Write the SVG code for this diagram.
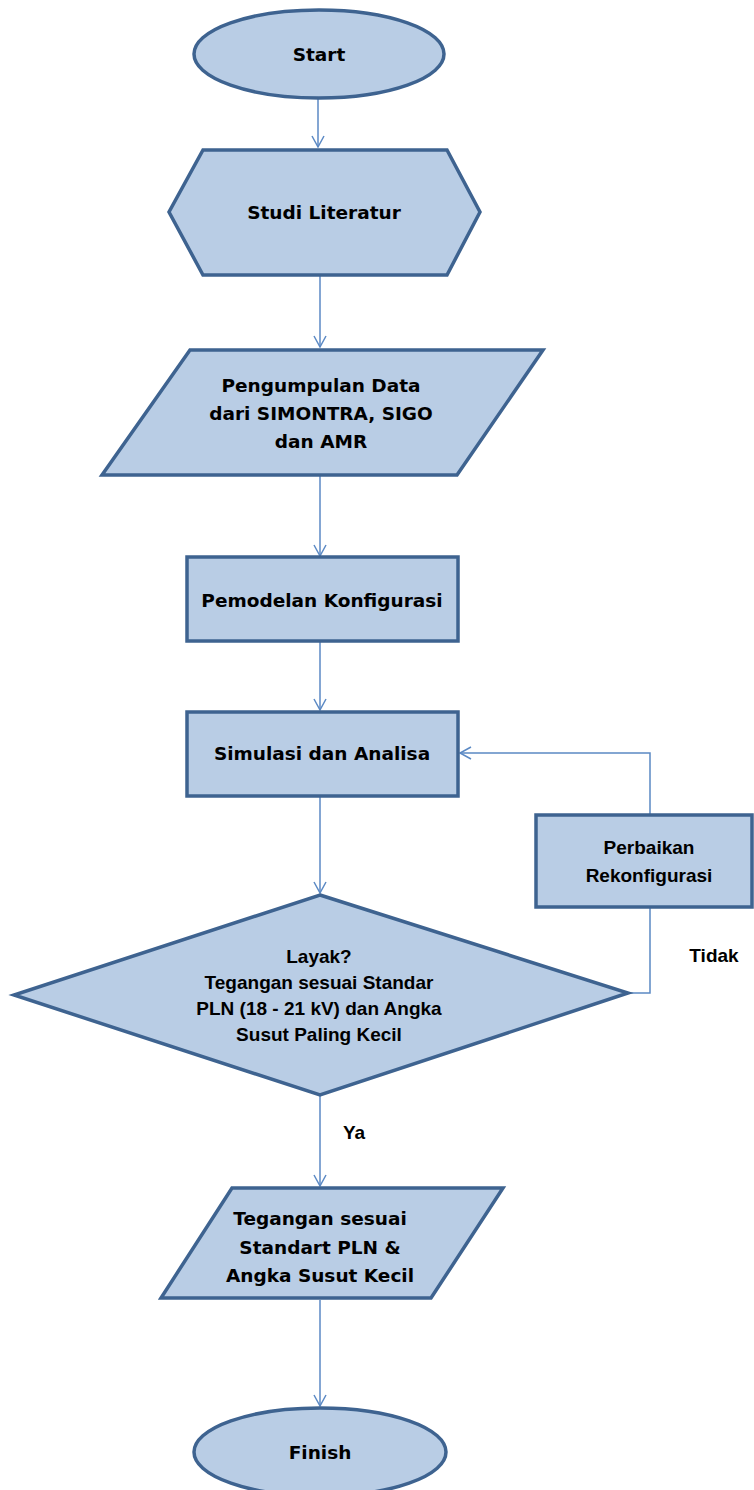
<svg xmlns="http://www.w3.org/2000/svg" width="754" height="1490" viewBox="0 0 754 1490">
<style>
.shape{fill:#B9CDE5;stroke:#3E6390;stroke-width:3.5;stroke-linejoin:miter}
.t{font-family:"DejaVu Sans",Verdana,sans-serif;font-weight:bold;font-size:18.5px;fill:#000;text-anchor:middle;dominant-baseline:central}
.c{font-family:"Liberation Sans",Arial,sans-serif;font-weight:bold;font-size:19px;fill:#000;text-anchor:middle;dominant-baseline:central}
.conn{fill:none;stroke:#5B89C4;stroke-width:1.5}
</style>
<defs>
<marker id="arr" markerWidth="14" markerHeight="14" refX="12" refY="7" orient="auto" markerUnits="userSpaceOnUse">
<path d="M1,1 L12,7 L1,13" fill="none" stroke="#5B89C4" stroke-width="1.5"/>
</marker>
</defs>
<rect width="754" height="1490" fill="#fff"/>
<g id="connectors">
<line class="conn" x1="318" y1="98" x2="318" y2="147" marker-end="url(#arr)"/>
<line class="conn" x1="320" y1="276" x2="320" y2="347" marker-end="url(#arr)"/>
<line class="conn" x1="320" y1="476" x2="320" y2="556" marker-end="url(#arr)"/>
<line class="conn" x1="320" y1="642" x2="320" y2="710" marker-end="url(#arr)"/>
<line class="conn" x1="320" y1="797" x2="320" y2="893" marker-end="url(#arr)"/>
<polyline class="conn" points="650,815 650,753 460,753" marker-end="url(#arr)"/>
<polyline class="conn" points="628,993 650,993 650,907"/>
<line class="conn" x1="320" y1="1096" x2="320" y2="1186" marker-end="url(#arr)"/>
<line class="conn" x1="320" y1="1300" x2="320" y2="1406" marker-end="url(#arr)"/>
</g>
<g id="start">
<ellipse class="shape" cx="319" cy="54" rx="125" ry="44"/>
<text class="t" x="319" y="54">Start</text>
</g>
<g id="studi">
<polygon class="shape" points="203,150 447,150 480,212 447,275 203,275 169,212"/>
<text class="t" x="324" y="212">Studi Literatur</text>
</g>
<g id="pengumpulan">
<polygon class="shape" points="190,350 543,350 457,475 102,475"/>
<text class="t" x="321" y="385">Pengumpulan Data</text>
<text class="t" x="321" y="413">dari SIMONTRA, SIGO</text>
<text class="t" x="321" y="441">dan AMR</text>
</g>
<g id="pemodelan">
<rect class="shape" x="187" y="557" width="271" height="84"/>
<text class="t" x="322" y="600">Pemodelan Konfigurasi</text>
</g>
<g id="simulasi">
<rect class="shape" x="187" y="712" width="271" height="84"/>
<text class="t" x="322" y="753">Simulasi dan Analisa</text>
</g>
<g id="perbaikan">
<rect class="shape" x="536" y="815" width="216" height="92"/>
<text class="c" x="649" y="847">Perbaikan</text>
<text class="c" x="649" y="875">Rekonfigurasi</text>
</g>
<g id="layak">
<polygon class="shape" points="320,895 628,993 320,1095 14,995"/>
<text class="c" x="319" y="956">Layak?</text>
<text class="c" x="319" y="982">Tegangan sesuai Standar</text>
<text class="c" x="319" y="1008">PLN (18 - 21 kV) dan Angka</text>
<text class="c" x="319" y="1034">Susut Paling Kecil</text>
</g>
<text class="c" x="714" y="955">Tidak</text>
<text class="c" x="354" y="1132">Ya</text>
<g id="hasil">
<polygon class="shape" points="232,1188 503,1188 431,1298 161,1298"/>
<text class="t" x="320" y="1218">Tegangan sesuai</text>
<text class="t" x="320" y="1247">Standart PLN &amp;</text>
<text class="t" x="320" y="1275">Angka Susut Kecil</text>
</g>
<g id="finish">
<ellipse class="shape" cx="320" cy="1452" rx="126" ry="44"/>
<text class="t" x="320" y="1452">Finish</text>
</g>
</svg>
